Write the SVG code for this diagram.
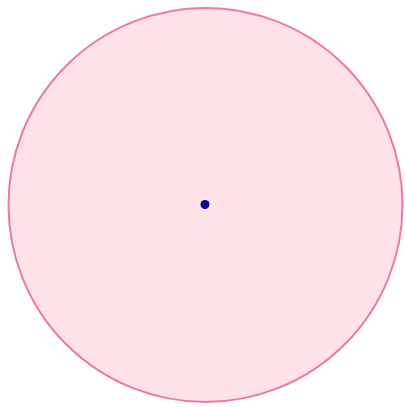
<svg xmlns="http://www.w3.org/2000/svg" width="406" height="407" viewBox="0 0 406 407">
<style>
.circ{fill:#ffe1e8;stroke:#ec7b98;stroke-width:2}
.dot{fill:#0a0a8c}
</style>
<rect width="406" height="407" fill="#ffffff"/>
<g id="circle"><circle class="circ" cx="205.5" cy="205" r="197"/></g>
<g id="center"><circle class="dot" cx="205" cy="204.5" r="4.5"/></g>
<g id="connectors"></g>
</svg>
